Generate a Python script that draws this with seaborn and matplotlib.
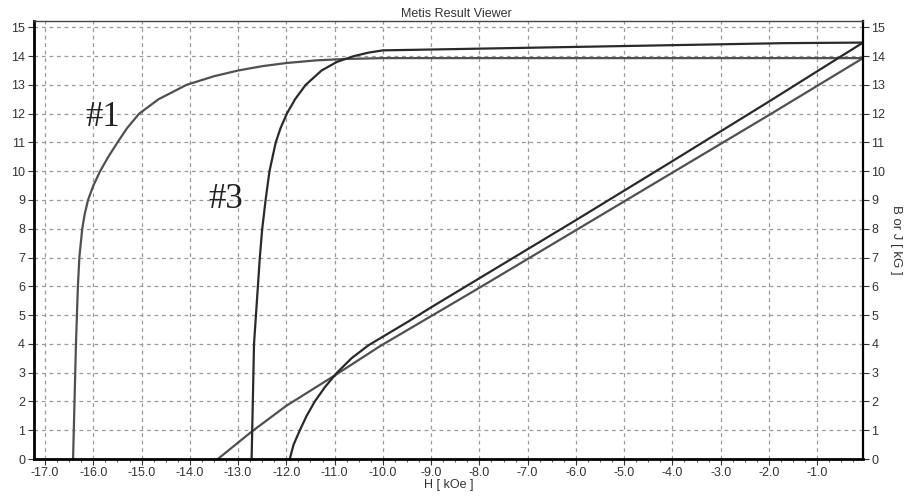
import matplotlib
matplotlib.use("Agg")
import matplotlib.pyplot as plt
from matplotlib.ticker import MultipleLocator, AutoMinorLocator, FormatStrFormatter
import numpy as np
import pandas as pd
import seaborn as sns

# Demagnetisation curves (H in kOe, B or J in kG)
j1_h = [-16.42, -16.39, -16.36, -16.32, -16.29, -16.26, -16.23, -16.18, -16.11, -16.0,
        -15.86, -15.69, -15.5, -15.3, -15.05, -14.65, -14.07, -13.5, -13.0, -12.5,
        -12.0, -11.4, -10.8, -10.0, -0.05]
j1_b = [0.0, 2.0, 4.0, 6.0, 7.0, 7.5, 8.0, 8.5, 9.0, 9.5,
        10.0, 10.5, 11.0, 11.5, 12.0, 12.5, 13.0, 13.3, 13.5, 13.65,
        13.76, 13.85, 13.9, 13.93, 13.93]

b1_h = [-13.42, -12.72, -12.0, -11.0, -10.06, -8.0, -6.0, -4.0, -2.0, -0.05]
b1_b = [0.0, 0.95, 1.85, 2.9, 3.92, 5.95, 7.95, 9.95, 11.95, 13.93]

j3_h = [-12.72, -12.67, -12.55, -12.5, -12.43, -12.35, -12.22, -12.12, -11.99, -11.82,
        -11.6, -11.27, -10.95, -10.6, -10.3, -10.0, -9.3, -5.0, -1.7, -0.05]
j3_b = [0.0, 4.0, 7.0, 8.0, 9.0, 10.0, 11.0, 11.5, 12.0, 12.5,
        13.0, 13.5, 13.8, 14.0, 14.12, 14.2, 14.22, 14.35, 14.45, 14.47]

b3_h = [-11.93, -11.85, -11.72, -11.58, -11.41, -11.2, -10.95, -10.65, -10.3, -10.0,
        -9.5, -9.0, -6.0, -4.0, -2.0, -0.05]
b3_b = [0.0, 0.5, 1.0, 1.5, 2.0, 2.5, 3.0, 3.5, 3.95, 4.25,
        4.75, 5.27, 8.3, 10.35, 12.42, 14.47]

curve_labels = ["#1", "#3"]
label_pos_h = [-15.8, -13.25]
label_pos_b = [11.85, 9.0]

sns.set_theme(style="white")
plt.rcParams["font.family"] = ["Liberation Sans", "DejaVu Sans"]

fig = plt.figure(figsize=(9.09, 5.04), dpi=100)
ax = fig.add_axes([33.5 / 909, 1 - 459 / 504, (863 - 33.5) / 909, (459 - 21) / 504])

light = "#505050"
dark = "#2a2a2a"
for hs, bs, col in [(j1_h, j1_b, light), (b1_h, b1_b, light),
                    (j3_h, j3_b, dark), (b3_h, b3_b, dark)]:
    sns.lineplot(x=hs, y=bs, ax=ax, color=col, linewidth=1.6,
                 sort=False, estimator=None)

for txt, hx, by in zip(curve_labels, label_pos_h, label_pos_b):
    ax.text(hx, by, txt, fontsize=25, family=["Liberation Serif", "DejaVu Serif"],
            color="#222222", ha="center", va="center")

ax.set_xlim(-17.24, -0.05)
ax.set_ylim(0, 15.22)
ax.xaxis.set_major_locator(MultipleLocator(1.0))
ax.xaxis.set_major_formatter(FormatStrFormatter("%.1f"))
ax.xaxis.set_minor_locator(AutoMinorLocator(4))
ax.yaxis.set_major_locator(MultipleLocator(1))

ax.grid(True, which="major", color="#9a9a9a", linestyle=(0, (3, 3)), linewidth=0.9)
ax.tick_params(axis="both", which="major", labelsize=9, labelcolor="#333333",
               color="#333333", length=4, width=0.8, direction="out")
ax.tick_params(axis="x", which="minor", length=2.5, width=0.6, color="#333333", bottom=True)
ax.tick_params(axis="y", left=True, right=True, labelleft=True, labelright=True)
ax.tick_params(axis="x", bottom=True, pad=2)
ax.tick_params(axis="y", pad=2)

for side, lw, col in [("left", 2.0, "black"), ("bottom", 2.0, "black"),
                      ("right", 1.6, "black"), ("top", 1.0, "#444444")]:
    ax.spines[side].set_visible(True)
    ax.spines[side].set_linewidth(lw)
    ax.spines[side].set_color(col)

ax.set_xlabel("H [ kOe ]", fontsize=9, color="#333333", labelpad=0)
ax.yaxis.set_label_position("right")
ax.set_ylabel("B or J [ kG ]", fontsize=9.5, color="#333333", rotation=270, labelpad=12)
ax.set_title("Metis Result Viewer", fontsize=9, color="#333333", pad=3, x=0.51)

fig.savefig("out.png", dpi=100)
